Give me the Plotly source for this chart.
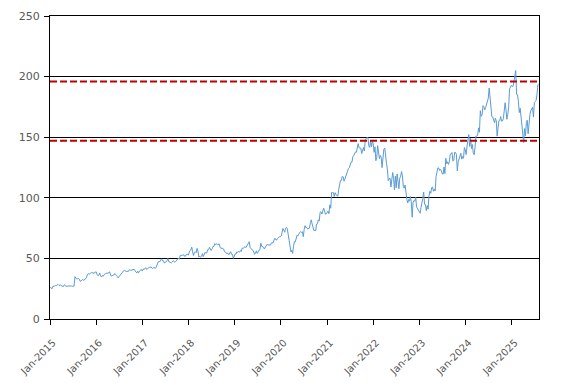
import pandas as pd
import plotly.graph_objects as go

# Weekly closing prices (Friday)
p2015 = [26.2, 25.0, 24.9, 26.9, 26.8,
         27.2, 27.6, 27.4, 28.2,
         28.5, 27.7, 28.1, 28.0,
         27.3, 27.1, 26.8, 28.3,
         27.4, 27.0, 27.1, 27.2, 27.0,
         27.2, 27.1, 27.3, 27.0,
         26.8, 27.1, 34.9, 33.8, 33.0,
         33.2, 33.5, 32.9, 31.0,
         31.5, 32.0, 32.7, 31.8,
         32.6, 33.8, 34.0, 36.5, 37.5,
         36.8, 37.6, 38.0, 38.2,
         38.0, 37.5, 37.8, 38.8]
p2016 = [38.9, 36.6, 35.9, 36.1, 38.0,
         35.7, 34.6, 35.9, 35.3,
         36.6, 37.3, 37.6, 37.8,
         38.1, 37.9, 39.0, 36.5, 35.4,
         35.8, 36.0, 36.3, 37.5,
         37.0, 36.1, 34.9, 33.8,
         35.1, 36.2, 37.0, 37.5, 39.5,
         39.8, 40.1, 39.6, 39.2,
         39.6, 38.9, 40.2, 40.6, 40.2,
         40.4, 41.1, 40.9, 41.0,
         39.7, 38.8, 38.0, 39.4,
         38.2, 39.5, 40.4, 40.9, 39.6]
p2017 = [41.1, 41.0, 41.3, 42.3,
         40.9, 41.5, 42.4, 42.6,
         42.6, 43.1, 42.0, 41.7, 42.4,
         42.3, 41.9, 43.0, 46.3,
         47.0, 47.5, 47.2, 49.0,
         49.6, 47.9, 48.0, 46.3, 46.5,
         47.2, 48.0, 50.0, 47.3,
         47.0, 46.3, 46.3, 47.0,
         48.0, 47.5, 46.8, 47.6, 48.7,
         49.4, 50.3, 49.3, 52.5,
         52.6, 52.3, 52.8, 53.0,
         51.7, 51.9, 53.3, 53.6, 52.7]
p2018 = [55.0, 56.5, 57.0, 59.3,
         55.4, 52.4, 55.0, 55.5,
         54.7, 58.3, 56.0, 51.1, 51.9,
         51.0, 51.7, 53.9, 51.5,
         53.6, 55.0, 54.3, 54.5,
         57.2, 57.3, 59.1, 57.5, 56.5,
         57.9, 59.8, 59.9, 62.2,
         61.4, 62.2, 61.2, 61.8, 62.0,
         59.2, 58.1, 58.6, 58.3,
         57.8, 55.6, 55.4, 54.2,
         53.9, 54.2, 53.2, 54.1, 55.5,
         53.4, 53.3, 50.0, 51.7]
p2019 = [53.6, 53.6, 55.4, 54.9,
         55.8, 55.1, 56.5, 55.7,
         58.6, 58.1, 59.2, 59.8, 58.9,
         60.8, 61.1, 62.6, 63.8,
         58.8, 58.1, 58.0, 56.6, 55.3,
         53.3, 54.3, 56.2, 54.1,
         56.4, 56.8, 57.1, 62.6,
         59.9, 59.5, 59.3, 57.8, 59.4,
         59.9, 61.6, 61.1, 61.2,
         60.8, 61.0, 62.8, 63.1,
         62.9, 65.2, 66.7, 65.3, 65.2,
         66.4, 67.6, 67.9, 67.9]
p2020 = [68.4, 71.2, 74.7, 73.1, 71.6,
         74.8, 75.7, 74.2, 66.9,
         64.8, 60.5, 55.3, 56.6,
         54.1, 60.1, 64.0, 63.7,
         66.6, 69.2, 68.6, 70.8, 71.5,
         72.0, 71.5, 72.0, 67.9,
         73.8, 77.0, 75.3, 75.4, 74.3,
         74.4, 75.1, 79.4, 81.8,
         78.5, 75.5, 72.9, 73.1,
         72.8, 78.3, 78.6, 81.9, 80.8,
         88.0, 88.5, 86.6, 89.2,
         91.4, 89.2, 86.5, 86.7]
p2021 = [87.6, 89.0, 86.9, 94.2, 91.4,
         104.4, 104.3, 104.3, 101.1,
         104.2, 102.5, 101.6, 101.3,
         106.9, 112.4, 114.3, 114.3, 117.7,
         117.4, 113.7, 115.4, 117.8,
         118.5, 122.9, 124.2, 124.8,
         128.1, 129.5, 129.4, 134.2, 134.7,
         136.5, 137.9, 137.6, 143.4,
         144.7, 141.3, 141.1, 141.0,
         136.5, 138.7, 141.5, 138.6, 148.0,
         149.1, 149.2, 149.8, 142.8,
         141.6, 147.1, 142.0, 146.4, 144.9]
p2022 = [137.5, 142.1, 130.6, 133.4,
         143.0, 136.4, 132.3, 134.9,
         133.5, 124.9, 136.3, 140.0,
         141.1, 131.8, 128.2, 123.6, 114.1,
         115.6, 116.3, 108.9, 114.6,
         120.9, 115.9, 106.6, 117.9,
         108.2, 119.7, 111.1, 107.5, 116.3,
         117.9, 121.7, 118.1, 109.0,
         107.9, 110.6, 103.4, 98.7, 95.7,
         98.6, 97.2, 101.1, 96.6,
         84.0, 96.0, 97.8, 97.2,
         100.4, 92.5, 90.9, 89.2, 88.2]
p2023 = [87.3, 92.1, 98.0, 99.4,
         104.8, 94.6, 94.4, 89.4,
         93.6, 90.6, 101.6, 105.4, 103.7,
         108.4, 108.9, 105.4, 107.3,
         105.6, 117.5, 123.3, 124.6,
         124.7, 122.5, 123.5, 122.3, 119.7,
         119.5, 125.4, 120.0, 132.6,
         128.1, 129.7, 127.5, 129.9,
         135.7, 136.2, 137.4, 130.3, 130.9,
         137.6, 137.4, 135.6, 122.2,
         129.7, 132.6, 135.3, 136.7,
         131.9, 134.1, 132.6, 141.5, 139.7]
p2024 = [135.7, 142.7, 146.9, 152.2,
         142.4, 149.0, 140.6, 143.9,
         137.1, 135.6, 141.2, 150.8, 150.9,
         151.8, 157.7, 154.1, 171.9,
         167.2, 168.7, 176.1, 175.1, 172.5,
         174.5, 177.7, 179.6, 182.2,
         190.6, 184.5, 177.7, 167.0,
         166.7, 163.7, 162.0, 165.6, 163.4,
         150.9, 158.4, 163.6, 163.9,
         167.1, 163.2, 163.4, 165.3,
         171.3, 178.4, 172.5, 164.8, 168.9,
         174.7, 189.8, 191.4, 192.8]
p2025 = [191.8, 192.0, 196.0, 200.2, 205.0,
         185.3, 185.2, 179.7, 170.3,
         173.9, 165.5, 163.9, 154.3,
         145.6, 157.1, 151.2, 161.9,
         164.0, 152.8, 166.2, 168.5, 171.7,
         173.7, 174.7, 166.6, 178.5,
         179.5, 180.2, 185.1, 193.2, 194.0]

years = [2015, 2016, 2017, 2018, 2019, 2020, 2021, 2022, 2023, 2024, 2025]
yearly = [p2015, p2016, p2017, p2018, p2019, p2020, p2021, p2022, p2023, p2024, p2025]

ref_levels = [196, 147]
tick_years = list(range(2015, 2026))
tick_labels = [f"Jan-{y}" for y in tick_years]

dates = []
prices = []
for y, vals in zip(years, yearly):
    d = pd.date_range(f"{y}-01-01", periods=len(vals), freq="W-FRI")
    dates.extend(d)
    prices.extend(vals)

fig = go.Figure()
fig.add_trace(go.Scatter(x=dates, y=prices, mode="lines",
                         line=dict(color="#5B9BD5", width=1), showlegend=False))

for lv in ref_levels:
    fig.add_shape(type="line", xref="paper", x0=0, x1=1, yref="y", y0=lv, y1=lv,
                  line=dict(color="#C00000", width=2, dash="7px,3px"), layer="above")

xfont = dict(family="DejaVu Sans", size=10, color="#595959")
yfont = dict(family="DejaVu Sans", size=11, color="#595959")
# the page body adds an 8px offset, so the figure is sized to fit the window
fig.update_layout(
    width=559, height=375,
    margin=dict(l=42, r=28, t=8, b=64),
    plot_bgcolor="white", paper_bgcolor="white",
    font=yfont, showlegend=False,
)
fig.update_xaxes(
    type="date",
    range=["2015-01-01", "2025-08-03"],
    tickvals=[f"{y}-01-01" for y in tick_years],
    ticktext=tick_labels,
    tickangle=-45,
    showgrid=False,
    showline=True, linecolor="black", linewidth=1, mirror=True,
    ticks="outside", ticklen=5, tickcolor="black",
    tickfont=xfont, automargin=False,
    ticklabelstandoff=8, ticklabelshift=3,
)
fig.update_yaxes(
    range=[0, 250], dtick=50,
    showgrid=True, gridcolor="black", gridwidth=1,
    showline=True, linecolor="black", linewidth=1, mirror=True,
    ticks="outside", ticklen=5, tickcolor="black",
    tickfont=yfont, zeroline=False, automargin=False,
    ticklabelstandoff=2,
)

fig.write_html("out.html")
